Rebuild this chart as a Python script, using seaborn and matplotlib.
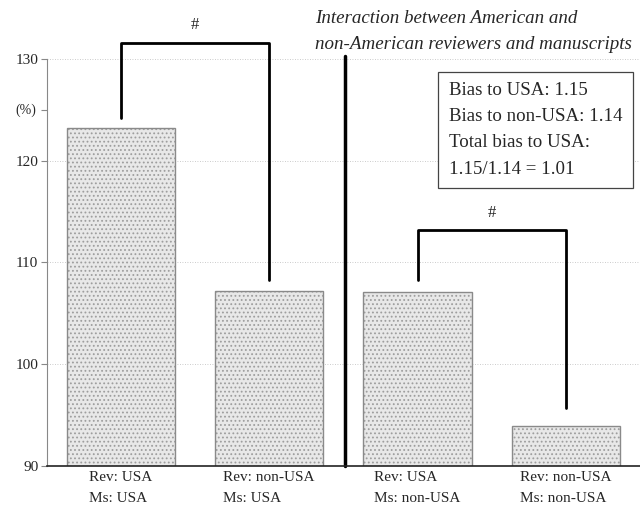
import matplotlib
matplotlib.use("Agg")
import matplotlib.pyplot as plt
import seaborn as sns
import pandas as pd

# ─── Data ─────────────────────────────────────────────────────────────────────
groups = ["Rev: USA\nMs: USA", "Rev: non-USA\nMs: USA",
          "Rev: USA\nMs: non-USA", "Rev: non-USA\nMs: non-USA"]
values = [123.2, 107.2, 107.1, 93.9]

bracket_a_x = [0, 1]
bracket_a_y = [124.2, 131.6, 108.3]     # left end, top, right end
bracket_b_x = [2, 3]
bracket_b_y = [108.3, 113.2, 95.7]

title_text = "Interaction between American and\nnon-American reviewers and manuscripts"
box_text = "Bias to USA: 1.15\nBias to non-USA: 1.14\nTotal bias to USA:\n1.15/1.14 = 1.01"

# ─── Style ────────────────────────────────────────────────────────────────────
sns.set_style("white")
plt.rcParams["font.family"] = ["Liberation Serif", "DejaVu Serif"]
plt.rcParams["hatch.color"] = "#a0a0a0"
plt.rcParams["hatch.linewidth"] = 0.8

df = pd.DataFrame({"group": groups, "value": values})

fig = plt.figure(figsize=(6.4, 5.08), dpi=100)
ax = fig.add_axes([0.073, 0.083, 0.927, 0.801])

sns.barplot(data=df, x="group", y="value", ax=ax, width=0.73,
            color="#e8e8e8", edgecolor="#8a8a8a", linewidth=1.0,
            hatch="....", saturation=1)
for p in ax.patches:
    p._hatch_color = (0.62, 0.62, 0.62, 1.0)

ax.set_ylim(90, 130)
ax.set_xlim(-0.5, 3.5)
ax.set_yticks([90, 100, 110, 120, 130])
ax.set_yticks([125], minor=True)
ax.set_yticklabels(["90", "100", "110", "120", "130"], fontsize=11)
ax.set_xticks(range(4))
ax.set_xticklabels(groups, fontsize=11, ha="center", multialignment="left",
                   linespacing=1.75)
ax.tick_params(axis="y", which="both", left=True, length=4, width=0.8,
               color="#888888", pad=2)
ax.tick_params(axis="x", length=0, pad=4)
ax.set_xlabel("")
ax.set_ylabel("")
ax.text(-0.018, 125, "(%)", transform=ax.get_yaxis_transform(),
        ha="right", va="center", fontsize=10)

for y in [100, 110, 120, 130]:
    ax.axhline(y, color="#bbbbbb", linestyle=(0, (1, 2)), linewidth=0.6, zorder=0)

for side in ["top", "right"]:
    ax.spines[side].set_visible(False)
ax.spines["left"].set_color("#888888")
ax.spines["bottom"].set_color("#222222")
ax.spines["bottom"].set_linewidth(1.2)

# divider between the two comparisons
ax.plot([1.51, 1.51], [90, 130.3], color="black", linewidth=2.5, clip_on=False)

# significance brackets
for bx, by in [(bracket_a_x, bracket_a_y), (bracket_b_x, bracket_b_y)]:
    ax.plot([bx[0], bx[0], bx[1], bx[1]], [by[0], by[1], by[1], by[2]],
            color="black", linewidth=2.0, clip_on=False)
    ax.text((bx[0] + bx[1]) / 2, by[1] + 0.9, "#", ha="center", va="bottom",
            fontsize=12, clip_on=False)

fig.text(0.492, 0.938, title_text, ha="left", va="center", fontsize=13.7,
         style="italic", linespacing=1.65)

ax.text(0.701, 0.838, box_text, transform=fig.transFigure, ha="left", va="top",
        fontsize=13.6, linespacing=1.7,
        bbox=dict(boxstyle="square,pad=0.55", facecolor="white",
                  edgecolor="#444444", linewidth=0.9))

fig.savefig("out.png", dpi=100)
